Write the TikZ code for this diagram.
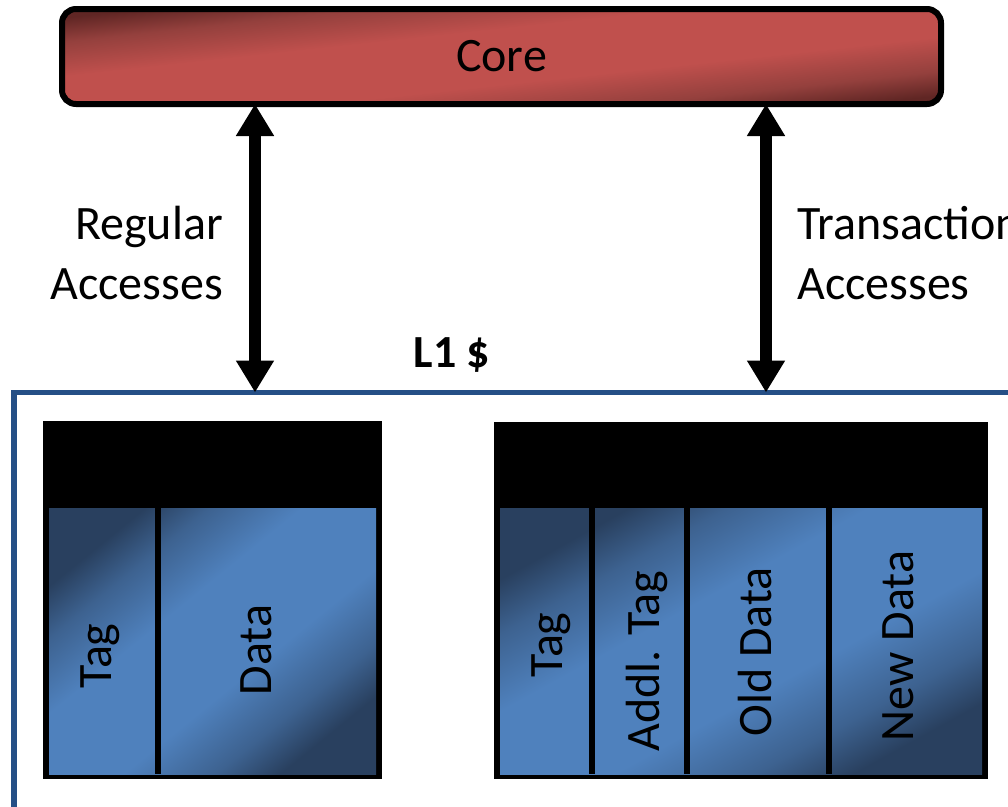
\documentclass[tikz,border=0pt]{standalone}
\usepackage{fontspec}
\setmainfont{Carlito}
\usetikzlibrary{arrows.meta}
\definecolor{rdark}{HTML}{602624}
\definecolor{rmid}{HTML}{94403D}
\definecolor{rlight}{HTML}{C0504D}
\definecolor{bdark}{HTML}{29405F}
\definecolor{bmid}{HTML}{3D6290}
\definecolor{blight}{HTML}{4F81BD}
\definecolor{l1blue}{HTML}{254F86}
\pgfdeclareverticalshading{reddiag}{100bp}{color(0bp)=(rdark); color(25bp)=(rdark); color(32bp)=(rmid); color(42bp)=(rlight); color(58bp)=(rlight); color(68bp)=(rmid); color(75bp)=(rdark); color(100bp)=(rdark)}
\pgfdeclareverticalshading{bluediag}{100bp}{color(0bp)=(bdark); color(25bp)=(bdark); color(32bp)=(bmid); color(42bp)=(blight); color(58bp)=(blight); color(68bp)=(bmid); color(75bp)=(bdark); color(100bp)=(bdark)}
\tikzset{
  corebox/.style={draw=black, line width=6pt, rounded corners=14pt, shading=reddiag, shading angle=6.2,
    minimum width=879pt, minimum height=95pt, inner sep=0pt, font=\fontsize{48}{56}\selectfont},
  l1box/.style={draw=l1blue, line width=5.5pt, inner sep=0pt},
  tablebg/.style={fill=black, inner sep=0pt, anchor=north west},
  cellshade/.style={shading=bluediag},
  sepbar/.style={fill=black},
  celltext/.style={rotate=90, inner sep=0pt, font=\fontsize{48}{56}\selectfont},
  lbl/.style={inner sep=0pt, font=\fontsize{48}{60}\selectfont},
  dblarrow/.style={line width=12pt, {Triangle[width=36pt,length=32pt]}-{Triangle[width=36pt,length=32pt]}}
}
\begin{document}
\begin{tikzpicture}[x=1pt,y=-1pt]
\useasboundingbox (0,0) rectangle (1008,806);
\clip (0,0) rectangle (1008,806);

% Core
\node[corebox] (core) at (501.5,56.5) {Core};

% L1 cache box (extends beyond the picture)
\node[l1box, minimum width=1030pt, minimum height=450pt] (l1) at (529,617.5) {};
\node[lbl, anchor=base, font=\fontsize{46}{54}\selectfont\bfseries] (l1lbl) at (452,367) {L1 \$};

% Arrows
\coordinate (ax1) at (255,0);
\coordinate (ax2) at (766,0);
\draw[dblarrow, shorten <=-3pt, shorten >=-2.75pt] (core.south -| ax1) -- (l1.north -| ax1);
\draw[dblarrow, shorten <=-3pt, shorten >=-2.75pt] (core.south -| ax2) -- (l1.north -| ax2);

% Arrow labels
\node[lbl, anchor=east, align=right] (reg) at (223,253) {Regular\\Accesses};
\node[lbl, anchor=west, align=left] (trans) at (797,253) {Transaction\\Accesses};

% Left table
\node[tablebg, minimum width=339pt, minimum height=358pt] (tabL) at (43,421) {};
\path[cellshade, shading angle=39.1] (49,508) rectangle (376,774);
\fill[sepbar] (155,508) rectangle (161,774);
\node[celltext] (tagL) at (100,656) {Tag};
\node[celltext] (dataL) at (256,650) {Data};

% Right table
\node[tablebg, minimum width=494pt, minimum height=357pt] (tabR) at (494,422) {};
\path[cellshade, shading angle=28.9] (500,508) rectangle (982,774);
\fill[sepbar] (589,508) rectangle (595,774);
\fill[sepbar] (684,508) rectangle (690,774);
\fill[sepbar] (826,508) rectangle (832,774);
\node[celltext] (tagR) at (551,645) {Tag};
\node[celltext] (addl) at (647,661) {Addl. Tag};
\node[celltext] (oldd) at (755,652) {Old Data};
\node[celltext] (newd) at (898,646) {New Data};
\end{tikzpicture}
\end{document}
